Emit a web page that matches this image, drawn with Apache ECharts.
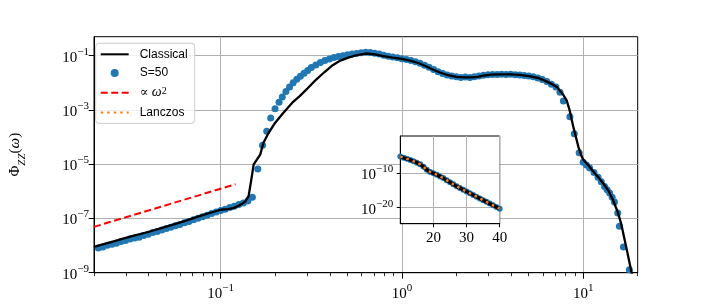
<!DOCTYPE html>
<html><head><meta charset="utf-8">
<script src="https://cdn.jsdelivr.net/npm/echarts@6/dist/echarts.min.js"></script>
<style>html,body{margin:0;padding:0;background:#fff}#c{width:709px;height:307px}</style>
</head><body><div id="c"></div>
<script>
// ---- data (log10 of omega and of Phi_ZZ) ----
const classicalLogOmega = [-1.70,-1.60,-1.50,-1.40,-1.30,-1.20,-1.10,-1.00,-0.96,-0.93,-0.90,-0.88,-0.864,-0.846,-0.831,-0.818,-0.80,-0.782,-0.764,-0.736,-0.70,-0.655,-0.60,-0.564,-0.52,-0.473,-0.43,-0.382,-0.34,-0.291,-0.25,-0.20,-0.15,-0.109,-0.05,0.00,0.05,0.091,0.13,0.164,0.21,0.255,0.30,0.345,0.38,0.418,0.455,0.491,0.55,0.60,0.65,0.709,0.75,0.782,0.82,0.855,0.873,0.891,0.909,0.925,0.945,0.96,0.973,0.99,1.0,1.03,1.055,1.08,1.109,1.14,1.164,1.19,1.209,1.237,1.264,1.28];
const classicalLogPhi = [-8.05,-7.86,-7.67,-7.50,-7.30,-7.10,-6.88,-6.68,-6.66,-6.62,-6.53,-6.45,-6.37,-6.18,-5.57,-5.01,-4.83,-4.65,-4.21,-3.85,-3.48,-3.11,-2.70,-2.49,-2.20,-1.88,-1.62,-1.35,-1.18,-1.06,-0.98,-0.92,-0.95,-1.01,-1.07,-1.12,-1.19,-1.27,-1.38,-1.49,-1.62,-1.72,-1.78,-1.80,-1.80,-1.78,-1.73,-1.70,-1.69,-1.69,-1.71,-1.76,-1.82,-1.90,-2.02,-2.15,-2.30,-2.45,-2.65,-3.0,-3.6,-4.0,-4.34,-4.68,-4.83,-5.05,-5.26,-5.45,-5.69,-5.98,-6.31,-6.75,-7.17,-8.03,-8.89,-9.4];

const s50LogOmega = [-1.700,-1.675,-1.650,-1.625,-1.600,-1.575,-1.550,-1.525,-1.500,-1.475,-1.450,-1.425,-1.400,-1.375,-1.350,-1.325,-1.300,-1.275,-1.250,-1.225,-1.200,-1.175,-1.150,-1.125,-1.100,-1.075,-1.050,-1.025,-1.000,-0.975,-0.950,-0.925,-0.900,-0.875,-0.850,-0.825,-0.795,-0.769,-0.746,-0.724,-0.700,-0.678,-0.660,-0.640,-0.620,-0.600,-0.580,-0.560,-0.540,-0.520,-0.500,-0.475,-0.450,-0.425,-0.400,-0.375,-0.350,-0.325,-0.300,-0.275,-0.250,-0.225,-0.200,-0.175,-0.150,-0.125,-0.100,-0.075,-0.050,-0.025,0.000,0.025,0.050,0.075,0.100,0.125,0.150,0.175,0.200,0.225,0.250,0.275,0.300,0.325,0.350,0.375,0.400,0.425,0.450,0.475,0.500,0.525,0.550,0.575,0.600,0.625,0.650,0.675,0.700,0.725,0.750,0.775,0.800,0.825,0.850,0.872,0.891,0.927,0.951,0.978,1.000,1.018,1.036,1.060,1.082,1.100,1.118,1.132,1.146,1.160,1.173,1.191,1.200,1.222,1.255];
const s50LogPhi = [-8.14,-8.09,-8.05,-7.99,-7.95,-7.91,-7.85,-7.81,-7.76,-7.72,-7.69,-7.63,-7.58,-7.52,-7.48,-7.43,-7.37,-7.32,-7.27,-7.22,-7.16,-7.11,-7.05,-6.99,-6.94,-6.88,-6.82,-6.76,-6.71,-6.66,-6.60,-6.55,-6.49,-6.43,-6.36,-6.22,-5.18,-4.30,-3.79,-3.30,-2.96,-2.72,-2.52,-2.32,-2.15,-2.00,-1.87,-1.76,-1.65,-1.55,-1.44,-1.34,-1.25,-1.18,-1.12,-1.07,-1.03,-1.00,-0.97,-0.94,-0.92,-0.89,-0.87,-0.88,-0.91,-0.94,-0.98,-1.02,-1.05,-1.08,-1.11,-1.14,-1.18,-1.22,-1.28,-1.35,-1.43,-1.51,-1.59,-1.66,-1.71,-1.75,-1.78,-1.80,-1.79,-1.80,-1.78,-1.75,-1.72,-1.70,-1.69,-1.69,-1.68,-1.69,-1.68,-1.70,-1.71,-1.73,-1.75,-1.78,-1.82,-1.88,-1.95,-2.05,-2.15,-2.35,-2.67,-3.25,-3.88,-4.58,-4.93,-5.03,-5.14,-5.31,-5.48,-5.65,-5.82,-5.94,-6.06,-6.22,-6.39,-6.80,-7.29,-8.05,-8.89];

const powerLawLogOmega = [-1.699, -0.918];
const powerLawLogPhi = [-7.31, -5.74];

const insetN = [10,11,12,13,14,15,16,17,18,19,20,21,22,23,24,25,26,27,28,29,30,31,32,33,34,35,36,37,38,39,40];
const insetClassicalLogPhi = [-5.1,-5.5,-5.8,-6.1,-6.5,-6.9,-7.4,-8.1,-9.0,-9.6,-10.0,-10.4,-10.9,-11.4,-12.0,-12.6,-13.2,-13.8,-14.3,-14.8,-15.3,-15.8,-16.3,-16.8,-17.3,-17.8,-18.3,-18.8,-19.3,-19.8,-20.3];
const insetS50LogPhi = [-5.1,-5.5,-5.8,-6.1,-6.5,-6.9,-7.4,-8.1,-9.0,-9.6,-10.0,-10.4,-10.9,-11.4,-12.0,-12.6,-13.2,-13.8,-14.3,-14.8,-15.3,-15.8,-16.3,-16.8,-17.3,-17.8,-18.3,-18.8,-19.3,-19.8,-20.3];
const insetLanczosLogPhi = [-5.1,-5.5,-5.8,-6.1,-6.5,-6.9,-7.4,-8.1,-9.0,-9.6,-10.0,-10.4,-10.9,-11.4,-12.0,-12.6,-13.2,-13.8,-14.3,-14.8,-15.3,-15.8,-16.3,-16.8,-17.3,-17.8,-18.3,-18.8,-19.3,-19.8,-20.3];

// tick positions
const xMajorExp = [-1, 0, 1];
const xMinorValues = [0.02,0.03,0.04,0.05,0.06,0.07,0.08,0.09,0.2,0.3,0.4,0.5,0.6,0.7,0.8,0.9,2,3,4,5,6,7,8,9,20];
const yMajorExp = [-9, -7, -5, -3, -1];
const insetXTicks = [20, 30, 40];
const insetYExp = [-20, -10];
const legendNames = ['Classical', 'S=50', 'powerlaw', 'Lanczos'];

// ---- chart ----
const zip = (a, b) => a.map((v, i) => [v, b[i]]);
const SERIF = '"Liberation Serif", "DejaVu Serif", serif';
const SANS = '"Liberation Sans", Arial, sans-serif';
const pow10 = v => '{b|10}{s|' + (v < 0 ? '\u2212' : '') + Math.abs(v) + '}';
const richPow = {
  b: {fontFamily: SERIF, fontSize: 15, color: '#000', lineHeight: 19, verticalAlign: 'bottom'},
  s: {fontFamily: SERIF, fontSize: 11, color: '#000', lineHeight: 11, verticalAlign: 'top'}
};
const grey = '#b0b0b0';
const lineOnly = {opacity: 0, color: 'transparent', borderColor: 'transparent'};

const chart = echarts.init(document.getElementById('c'), null, {renderer: 'canvas'});
chart.setOption({
  animation: false,
  backgroundColor: '#fff',
  grid: [
    {left: 88, top: 36.7, width: 549.7, height: 236, show: true, borderColor: '#000', borderWidth: 1, z: 0},
    {left: 400.3, top: 136, width: 99.4, height: 87.7, show: true, backgroundColor: '#fff', borderColor: '#000', borderWidth: 1, z: 2}
  ],
  legend: {
    data: legendNames.map(n => n === 'S=50' ? {name: n} : {name: n, itemStyle: lineOnly}),
    orient: 'vertical', left: 95.7, top: 43.3,
    itemWidth: 28, itemHeight: 8, itemGap: 6.7,
    padding: [5, 7, 5, 4],
    backgroundColor: 'rgba(255,255,255,0.8)', borderColor: '#cccccc', borderWidth: 1, borderRadius: 3,
    textStyle: {fontFamily: SANS, fontSize: 12, color: '#000', lineHeight: 12, padding: [0, 0, 0, 6],
      rich: {i: {fontFamily: SERIF, fontStyle: 'italic', fontSize: 14, color: '#000', lineHeight: 12},
             sp: {fontFamily: SERIF, fontSize: 10, color: '#000', lineHeight: 9, verticalAlign: 'top'},
             t: {fontFamily: SERIF, fontSize: 13, color: '#000', lineHeight: 12}}},
    formatter: n => n === 'powerlaw' ? '{t|\u221D }{i|\u03C9}{sp|2}' : n
  },
  xAxis: [
    {type: 'value', gridIndex: 0, min: Math.log10(0.02), max: Math.log10(20), z: 1,
      axisLine: {show: true, onZero: false, lineStyle: {color: '#000', width: 1}},
      axisTick: {show: true, length: 6, customValues: xMajorExp, lineStyle: {color: '#000', width: 1}},
      axisLabel: {customValues: xMajorExp, formatter: pow10, rich: richPow, margin: 10},
      splitLine: {show: true, lineStyle: {color: grey, width: 1}}},
    {type: 'value', gridIndex: 0, min: Math.log10(0.02), max: Math.log10(20), position: 'bottom', z: 1,
      axisLine: {show: false},
      axisTick: {show: true, length: 3.5, customValues: xMinorValues.map(Math.log10), lineStyle: {color: '#000', width: 0.8}},
      axisLabel: {show: false}, splitLine: {show: false}},
    {type: 'value', gridIndex: 1, min: 10, max: 40, z: 3,
      axisLine: {show: true, onZero: false, lineStyle: {color: '#000', width: 1}},
      axisTick: {show: true, length: 3.5, customValues: insetXTicks, lineStyle: {color: '#000'}},
      axisLabel: {customValues: insetXTicks, fontFamily: SERIF, fontSize: 15, color: '#000', margin: 7},
      splitLine: {show: true, lineStyle: {color: grey, width: 1}}}
  ],
  yAxis: [
    {type: 'value', gridIndex: 0, min: -9, max: -0.3, z: 0,
      axisLine: {show: true, onZero: false, lineStyle: {color: '#000', width: 1}},
      axisTick: {show: true, length: 5.3, customValues: yMajorExp, lineStyle: {color: '#000', width: 1}},
      axisLabel: {customValues: yMajorExp, formatter: pow10, rich: richPow, margin: 5},
      splitLine: {show: true, lineStyle: {color: grey, width: 1}},
      name: '{p|\u03A6}{sub|ZZ}{p|(}{i|\u03C9}{p|)}', nameLocation: 'middle', nameRotate: 90, nameGap: 66,
      nameTextStyle: {rich: {
        p: {fontFamily: SERIF, fontSize: 15, color: '#000', lineHeight: 20, verticalAlign: 'top'},
        i: {fontFamily: SERIF, fontStyle: 'italic', fontSize: 15, color: '#000', lineHeight: 20, verticalAlign: 'top'},
        sub: {fontFamily: SERIF, fontStyle: 'italic', fontSize: 11, color: '#000', lineHeight: 11, verticalAlign: 'bottom'}}}},
    {type: 'value', gridIndex: 1, min: -24.65, max: 0.84, z: 3,
      axisLine: {show: true, onZero: false, lineStyle: {color: '#000', width: 1}},
      axisTick: {show: true, length: 3.5, customValues: insetYExp, lineStyle: {color: '#000'}},
      axisLabel: {customValues: insetYExp, formatter: pow10, rich: richPow, margin: 7},
      splitLine: {show: true, lineStyle: {color: grey, width: 1}}}
  ],
  series: [
    {name: 'S=50', type: 'scatter', xAxisIndex: 0, yAxisIndex: 0, data: zip(s50LogOmega, s50LogPhi),
      symbol: 'circle', symbolSize: 7, itemStyle: {color: '#1f77b4', opacity: 1}, z: 2},
    {name: 'Classical', type: 'line', xAxisIndex: 0, yAxisIndex: 0, data: zip(classicalLogOmega, classicalLogPhi),
      showSymbol: false, symbol: 'none', lineStyle: {color: '#000', width: 2.3}, itemStyle: {color: '#000'}, z: 3},
    {name: 'powerlaw', type: 'line', xAxisIndex: 0, yAxisIndex: 0, data: zip(powerLawLogOmega, powerLawLogPhi),
      showSymbol: false, symbol: 'none', lineStyle: {color: '#ff0000', width: 2, type: [7, 3.5]}, itemStyle: {color: '#ff0000'}, z: 3},
    {name: 'S=50', type: 'scatter', xAxisIndex: 2, yAxisIndex: 1, data: zip(insetN, insetS50LogPhi),
      symbol: 'circle', symbolSize: 6, itemStyle: {color: '#1f77b4', opacity: 1}, z: 5},
    {name: 'Classical', type: 'line', xAxisIndex: 2, yAxisIndex: 1, data: zip(insetN, insetClassicalLogPhi),
      showSymbol: false, symbol: 'none', lineStyle: {color: '#000', width: 3.5}, z: 6},
    {name: 'Lanczos', type: 'line', xAxisIndex: 2, yAxisIndex: 1, data: zip(insetN, insetLanczosLogPhi),
      showSymbol: false, symbol: 'none', lineStyle: {color: '#ff7f0e', width: 2.5, type: [2.5, 4]}, itemStyle: {color: '#ff7f0e'}, z: 7}
  ]
});
</script></body></html>
